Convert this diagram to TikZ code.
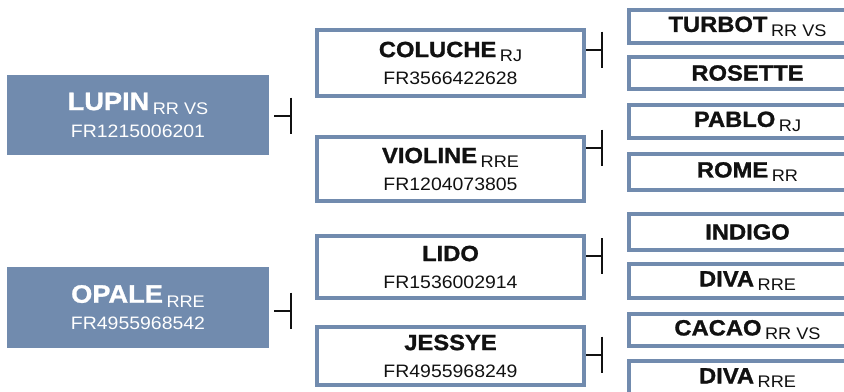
\documentclass[tikz,border=0pt]{standalone}
\usepackage{fontspec}
\setmainfont{Liberation Sans}[FakeStretch=1.08,BoldFeatures={FakeBold=1.2}]
\usetikzlibrary{arrows.meta,calc}

\definecolor{pedblue}{RGB}{113,139,174}
\definecolor{pedink}{RGB}{17,17,17}

\newcommand\qual[1]{\kern1.8pt\raisebox{-2.2pt}{\fontsize{8.4}{9}\selectfont\mdseries #1}}
\newcommand\sirename[1]{{\fontsize{12.6}{13}\selectfont\bfseries #1}}
\newcommand\horsename[1]{{\fontsize{11}{13}\selectfont\bfseries #1}}

\begin{document}
\begin{tikzpicture}[x=0.5pt,y=-0.5pt,line cap=butt,
        sire/.style={fill=pedblue,text=white,minimum width=131pt,minimum height=40pt,
            inner sep=0pt,align=center,font=\fontsize{9}{13.5}\selectfont},
        midbox/.style={draw=pedblue,line width=2pt,text=pedink,minimum width=133.5pt,
            inner sep=0pt,align=center,font=\fontsize{9}{13.5}\selectfont},
        endbox/.style={draw=pedblue,line width=2pt,text=pedink,minimum width=118.5pt,
            inner sep=0pt},
        barlink/.style={draw=pedink,line width=1pt,-{Bar[width=18pt]}}]
        \useasboundingbox (0,0) rectangle (844,391);
        \clip (0,0) rectangle (844,391);

        \node[sire] (lupin) at (138,115)
            {\sirename{LUPIN}\qual{RR VS}\\FR1215006201};
        \node[sire,minimum height=40.5pt] (opale) at (138,307.5)
            {\sirename{OPALE}\qual{RRE}\\FR4955968542};

        \node[midbox,minimum height=33pt] (coluche) at (450.5,63)
            {\horsename{COLUCHE}\qual{RJ}\\FR3566422628};
        \node[midbox,minimum height=32pt] (violine) at (450.5,169)
            {\horsename{VIOLINE}\qual{RRE}\\FR1204073805};
        \node[midbox,minimum height=31pt] (lido) at (450.5,267)
            {\horsename{LIDO}\\FR1536002914};
        \node[midbox,minimum height=29pt] (jessye) at (450.5,356)
            {\horsename{JESSYE}\\FR4955968249};

        \node[endbox,minimum height=16.5pt] (turbot) at (747.5,26.5)
            {\horsename{TURBOT}\qual{RR VS}};
        \node[endbox,minimum height=16pt] (rosette) at (747.5,73)
            {\horsename{ROSETTE}};
        \node[endbox,minimum height=16.5pt] (pablo) at (747.5,121.5)
            {\horsename{PABLO}\qual{RJ}};
        \node[endbox,minimum height=18pt] (rome) at (747.5,172)
            {\horsename{ROME}\qual{RR}};
        \node[endbox,minimum height=18pt] (indigo) at (747.5,232)
            {\horsename{INDIGO}};
        \node[endbox,minimum height=17pt] (diva) at (747.5,281)
            {\horsename{DIVA}\qual{RRE}};
        \node[endbox,minimum height=16pt] (cacao) at (747.5,330)
            {\horsename{CACAO}\qual{RR VS}};
        \node[endbox,minimum height=17pt] (divb) at (747.5,378)
            {\horsename{DIVA}\qual{RRE}};

        \coordinate (lupin-kids) at ($(coluche.north)!.5!(violine.south)$);
        \coordinate (opale-kids) at ($(lido.north)!.5!(jessye.south)$);
        \coordinate (coluche-kids) at ($(turbot.north)!.5!(rosette.south)$);
        \coordinate (violine-kids) at ($(pablo.north)!.5!(rome.south)$);
        \coordinate (lido-kids) at ($(indigo.north)!.5!(diva.south)$);
        \coordinate (jessye-kids) at ($(cacao.north)!.5!(divb.south)$);

        \draw[barlink] ($(lupin.east |- lupin-kids)+(5,0)$) -- ++(18,0);
        \draw[barlink] ($(opale.east |- opale-kids)+(5,0)$) -- ++(18,0);
        \draw[barlink] (coluche.east |- coluche-kids) -- ++(17,0);
        \draw[barlink] (violine.east |- violine-kids) -- ++(17,0);
        \draw[barlink] (lido.east |- lido-kids) -- ++(17,0);
        \draw[barlink] (jessye.east |- jessye-kids) -- ++(17,0);
\end{tikzpicture}
\end{document}
